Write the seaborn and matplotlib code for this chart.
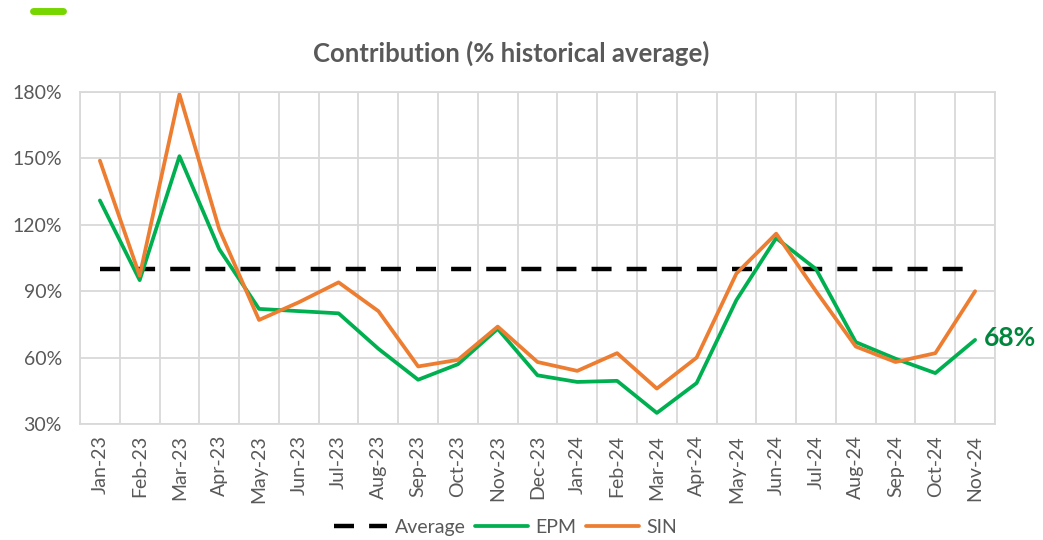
import numpy as np
import pandas as pd
import seaborn as sns
import matplotlib.pyplot as plt
from matplotlib.lines import Line2D

months = ["Jan-23", "Feb-23", "Mar-23", "Apr-23", "May-23", "Jun-23", "Jul-23", "Aug-23",
          "Sep-23", "Oct-23", "Nov-23", "Dec-23", "Jan-24", "Feb-24", "Mar-24", "Apr-24",
          "May-24", "Jun-24", "Jul-24", "Aug-24", "Sep-24", "Oct-24", "Nov-24"]
epm = [131, 95, 151, 109, 82, 81, 80, 64, 50, 57, 73, 52, 49, 49.5, 35, 48.5,
       86, 114, 100, 67, 59.5, 53, 68]
sin = [149, 97, 179, 118, 77, 85, 94, 81, 56, 59, 74, 58, 54, 62, 46, 60,
       98, 116, 90, 65, 58, 62, 90]
average = [100] * len(months)

yticks = [30, 60, 90, 120, 150, 180]

df = pd.DataFrame({"pos": np.arange(len(months)), "month": months,
                   "EPM": epm, "SIN": sin, "Average": average})

sns.set_theme(style="white")
plt.rcParams["font.family"] = ["Lato", "DejaVu Sans"]

grey = "#595959"
green = "#00B050"
orange = "#ED7D31"

fig = plt.figure(figsize=(10.43, 5.40), dpi=100)
ax = fig.add_axes([80 / 1043, 1 - 424 / 540, 915 / 1043, 332 / 540])

sns.lineplot(data=df, x="pos", y="Average", ax=ax, color="black", lw=3.2,
             dashes=False, label="Average")
ax.lines[-1].set_dashes((4.5, 3.4))
sns.lineplot(data=df, x="pos", y="EPM", ax=ax, color=green, lw=2.7, label="EPM")
sns.lineplot(data=df, x="pos", y="SIN", ax=ax, color=orange, lw=2.7, label="SIN")

ax.set_xlim(-0.5, len(months) - 0.5)
ax.set_ylim(30, 180)
ax.set_yticks(yticks)
ax.set_yticklabels([f"{v}%" for v in yticks], color=grey, fontsize=14)
ax.set_xticks(np.arange(len(months)))
ax.set_xticklabels(months, rotation=90, color=grey, fontsize=14)
ax.tick_params(axis="both", length=0)
ax.tick_params(axis="y", pad=13)
ax.tick_params(axis="x", pad=8)
ax.set_xlabel("")
ax.set_ylabel("")

# gridlines: horizontal at ticks, vertical at category boundaries
for v in yticks:
    ax.axhline(v, color="#D9D9D9", lw=1.3, zorder=0)
for b in np.arange(-0.5, len(months) + 0.5, 1):
    ax.axvline(b, color="#D9D9D9", lw=1.3, zorder=0)
for s in ax.spines.values():
    s.set_color("#D9D9D9")
    s.set_linewidth(1.3)

ax.text(len(months) - 1 + 0.22, epm[-1] + 1, f"{epm[-1]:.0f}%", color="#00863D",
        fontsize=19, fontweight="bold", va="center", ha="left", clip_on=False)

ax.legend_.remove()
handles = [Line2D([], [], color="black", lw=3.2, dashes=(4.5, 3.4)),
           Line2D([], [], color=green, lw=2.7),
           Line2D([], [], color=orange, lw=2.7)]
fig.legend(handles, ["Average", "EPM", "SIN"], loc="lower center",
           bbox_to_anchor=(0.485, -0.025), ncol=3, frameon=False, fontsize=14,
           labelcolor=grey, handlelength=2.7, columnspacing=0.5, handletextpad=0.4)

fig.text(0.49, 1 - 53 / 540, "Contribution (% historical average)", ha="center",
         va="center", fontsize=18.5, fontweight="bold", color=grey)

# small green accent bar top-left
fig.add_artist(Line2D([33 / 1043, 63 / 1043], [1 - 11 / 540, 1 - 11 / 540],
                      color="#77D600", lw=5, solid_capstyle="round",
                      transform=fig.transFigure))

plt.savefig("out.png", dpi=100)
